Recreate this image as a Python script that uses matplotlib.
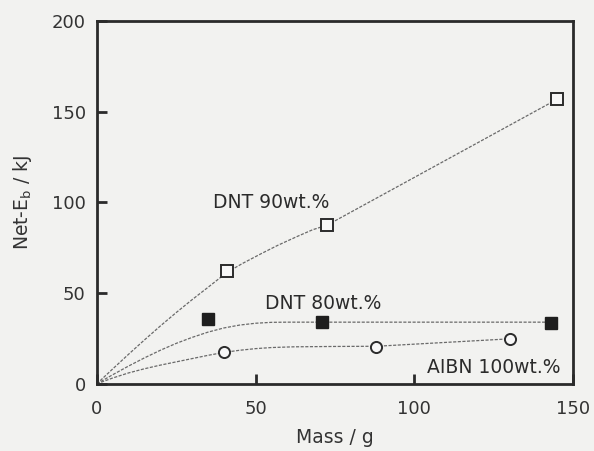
import matplotlib as mpl
import matplotlib.pyplot as plt

mpl.rcParams['font.family'] = 'DejaVu Sans'
mpl.rcParams['mathtext.fontset'] = 'dejavusans'

# measured points
dnt90_mass = [41, 72.5, 145]
dnt90_eb = [62, 87.5, 157]
dnt80_mass = [35, 71, 143]
dnt80_eb = [36, 34, 33.5]
aibn_mass = [40, 88, 130]
aibn_eb = [17.5, 20.5, 24.8]

# hand-drawn guide curves through the points
dnt90_curve_x = [0, 5, 10, 15, 20, 25, 30, 35, 41, 46, 52, 57, 63, 68, 72.5, 145]
dnt90_curve_y = [0, 8.2, 16.3, 24.2, 31.9, 39.3, 46.4, 53.2, 61.5, 66.5, 72, 76.4,
                 81.2, 85, 87.5, 157]
dnt80_curve_x = [0, 5, 10, 15, 20, 25, 30, 35, 40, 45, 50, 55, 60, 143]
dnt80_curve_y = [0, 5, 9.8, 14.3, 18.5, 22.3, 25.6, 28.5, 30.8, 32.4, 33.4, 33.9, 34, 34]
aibn_curve_x = [0, 5, 10, 15, 20, 25, 30, 35, 40, 45, 50, 55, 62, 75, 88, 130]
aibn_curve_y = [0, 3.2, 6, 8.3, 10.3, 12.1, 13.9, 15.7, 17.3, 18.5, 19.4, 20, 20.4,
                20.6, 20.7, 24.8]

ink = '#2b2b2b'
line_col = '#6a6a6a'

fig, ax = plt.subplots(figsize=(5.94, 4.51), dpi=100)
fig.patch.set_facecolor('#f2f2f0')
ax.set_facecolor('#f2f2f0')
fig.subplots_adjust(left=0.163, right=0.965, top=0.953, bottom=0.149)

# guide curves
for cx, cy in [(dnt90_curve_x, dnt90_curve_y),
               (dnt80_curve_x, dnt80_curve_y),
               (aibn_curve_x, aibn_curve_y)]:
    ax.plot(cx, cy, color=line_col, linestyle=(0, (2.5, 1.2)), linewidth=0.9, zorder=2)

# markers
ax.plot(dnt90_mass, dnt90_eb, linestyle='none', marker='s', markersize=8.5,
        markerfacecolor='#f7f7f7', markeredgecolor=ink, markeredgewidth=1.4, zorder=3)
ax.plot(dnt80_mass, dnt80_eb, linestyle='none', marker='s', markersize=8.5,
        markerfacecolor='#1e1e1e', markeredgecolor='#1e1e1e', zorder=3)
ax.plot(aibn_mass, aibn_eb, linestyle='none', marker='o', markersize=8,
        markerfacecolor='#f7f7f7', markeredgecolor=ink, markeredgewidth=1.4, zorder=3)

# series labels
ax.text(36.5, 97, 'DNT 90wt.%', fontsize=13.5, color=ink)
ax.text(53, 41, 'DNT 80wt.%', fontsize=13.5, color=ink)
ax.text(104, 6, 'AIBN 100wt.%', fontsize=13.5, color=ink)

# axes
ax.set_xlim(0, 150)
ax.set_ylim(0, 200)
ax.set_xticks([0, 50, 100, 150])
ax.set_yticks([0, 50, 100, 150, 200])
ax.tick_params(axis='both', direction='in', length=7, width=2, color=ink,
               labelsize=13, labelcolor='#333333')
ax.tick_params(axis='x', pad=12)
ax.tick_params(axis='y', pad=8)
for s in ax.spines.values():
    s.set_linewidth(2)
    s.set_color(ink)

ax.set_xlabel('Mass / g', fontsize=13.5, color='#333333', labelpad=7)
ax.set_ylabel('Net-E$_\\mathrm{b}$ / kJ', fontsize=13.5, color='#333333', labelpad=13)

plt.savefig('out.png', dpi=100, facecolor=fig.get_facecolor())
plt.close('all')
